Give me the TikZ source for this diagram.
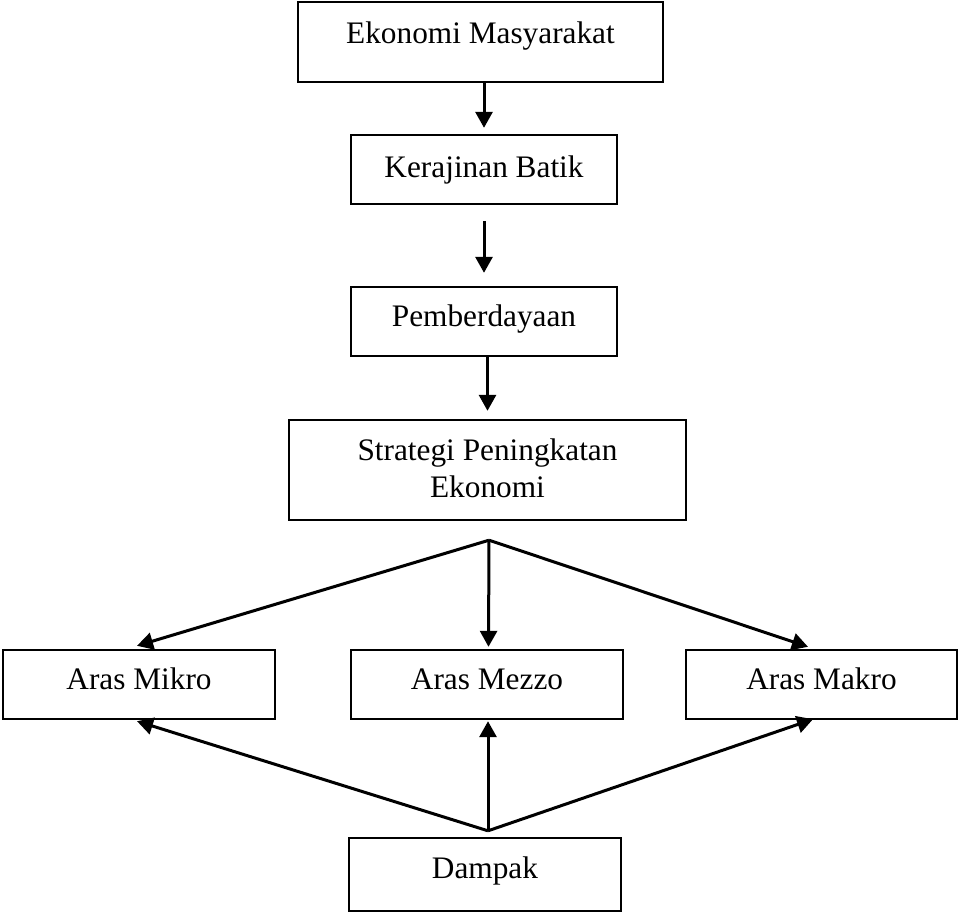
\documentclass[tikz,border=0pt]{standalone}
\usepackage{fontspec}
\setmainfont{Liberation Serif}
\usetikzlibrary{arrows.meta,calc}
\tikzset{
  box/.style={draw=black, line width=2.4pt, rectangle, inner sep=0pt},
  txt/.style={anchor=base, inner sep=0pt, font=\fontsize{31.3pt}{37pt}\selectfont},
  arr/.style={line width=3pt, -{Triangle[length=16pt,width=17pt]}, line join=miter}
}
\begin{document}
\begin{tikzpicture}[x=1pt,y=-1pt]
\useasboundingbox (0,0) rectangle (958,913);
% boxes
\node[box, minimum width=365pt, minimum height=80pt] (b1) at (480.5,42) {};
\node[box, minimum width=266pt, minimum height=69pt] (b2) at (484,169.5) {};
\node[box, minimum width=266pt, minimum height=69pt] (b3) at (484,321.5) {};
\node[box, minimum width=397pt, minimum height=100pt] (b4) at (487.5,470) {};
\node[box, minimum width=272pt, minimum height=69pt] (mikro) at (139,684.5) {};
\node[box, minimum width=272pt, minimum height=69pt] (mezzo) at (487,684.5) {};
\node[box, minimum width=271pt, minimum height=69pt] (makro) at (821.5,684.5) {};
\node[box, minimum width=272pt, minimum height=73pt] (dampak) at (485,874.5) {};
% texts
\node[txt] (t1) at (480.5,43) {Ekonomi Masyarakat};
\node[txt] (t2) at (484,177) {Kerajinan Batik};
\node[txt] (t3) at (484,326) {Pemberdayaan};
\node[txt] (t4a) at (487.5,460) {Strategi Peningkatan};
\node[txt] (t4b) at (487.5,497) {Ekonomi};
\node[txt] (t5) at (139,689) {Aras Mikro};
\node[txt] (t6) at (487,689) {Aras Mezzo};
\node[txt] (t7) at (821.5,689) {Aras Makro};
\node[txt] (t8) at (485,878) {Dampak};
% vertical chain
\draw[arr] (b1.south -| b2.north) -- ($(b2.north)+(0,-6)$);
\draw[arr] ($(b2.south)+(0,16)$) -- ($(b3.north)+(0,-13)$);
\draw[arr] (b3.south -| b4.north) -- ($(b4.north)+(0,-8)$);
% split
\coordinate (split) at ($(b4.south)+(1.5,19)$);
\draw[arr] (split) -- ($(mikro.north)+(-2,-3)$);
\draw[arr] (split) -- ($(mezzo.north)+(1.5,-2)$);
\draw[arr] (split) -- ($(makro.north)+(-13.5,-2)$);
% merge
\coordinate (merge) at ($(dampak.north)+(3,-6)$);
\draw[arr] (merge) -- ($(mikro.south)+(-2,1)$);
\draw[arr] (merge) -- ($(mezzo.south)+(1,1)$);
\draw[arr] (merge) -- ($(makro.south)+(-8.5,-1)$);
\end{tikzpicture}
\end{document}
